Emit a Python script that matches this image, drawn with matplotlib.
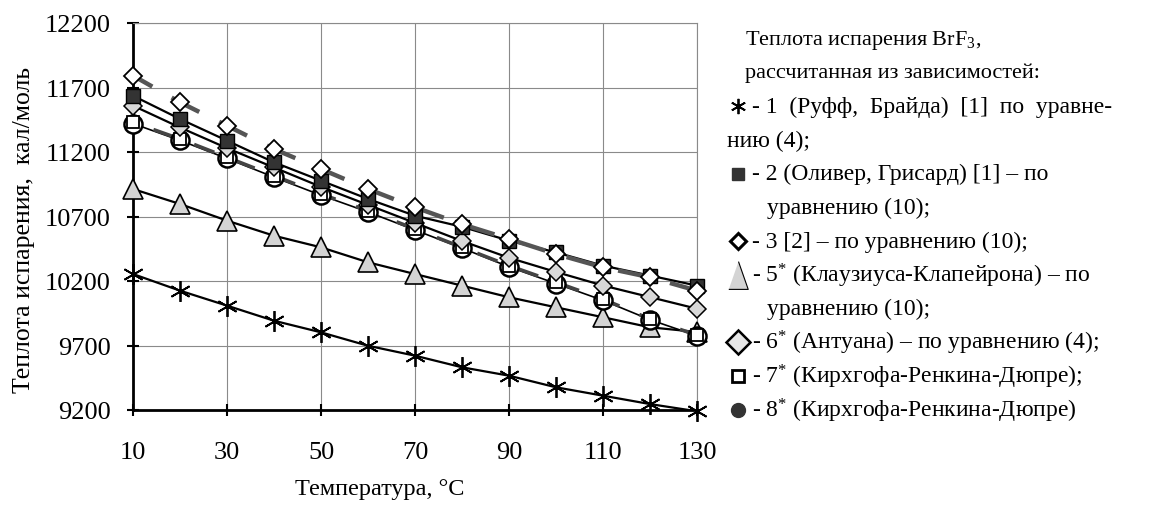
import matplotlib
matplotlib.use('Agg')
import matplotlib.pyplot as plt
from matplotlib.lines import Line2D

plt.rcParams['font.family'] = ['Liberation Serif', 'DejaVu Serif']
plt.rcParams['mathtext.fontset'] = 'custom'
plt.rcParams['mathtext.rm'] = 'Liberation Serif'
plt.rcParams['mathtext.it'] = 'Liberation Serif:italic'

# temperature, C
temps = [10, 20, 30, 40, 50, 60, 70, 80, 90, 100, 110, 120, 130]

# heat of vaporization, cal/mol
ruff = [10254, 10125, 10009, 9892, 9802, 9698, 9621, 9531, 9466, 9376, 9311, 9246, 9190]
oliver = [11636, 11456, 11288, 11120, 10978, 10836, 10706, 10620, 10513, 10422, 10319, 10242, 10164]
ref2 = [11792, 11585, 11404, 11223, 11068, 10913, 10771, 10640, 10526, 10409, 10306, 10229, 10125]
clausius = [10913, 10797, 10668, 10551, 10461, 10345, 10254, 10164, 10074, 9996, 9919, 9841, 9805]
antoine = [11559, 11390, 11230, 11080, 10930, 10790, 10650, 10510, 10380, 10270, 10165, 10075, 9985]
kirch7 = [11430, 11301, 11159, 11016, 10874, 10745, 10603, 10461, 10319, 10190, 10060, 9905, 9780]
kirch8 = [11420, 11290, 11150, 11005, 10865, 10735, 10595, 10455, 10310, 10180, 10050, 9900, 9775]

xticks = [10, 30, 50, 70, 90, 110, 130]
yticks = [9200, 9700, 10200, 10700, 11200, 11700, 12200]

legend_lines = [
    ('Теплота испарения BrF$_3$,', None),
    ('рассчитанная из зависимостей:', None),
    ('- 1  (Руфф,  Брайда)  [1]  по  уравне-', 'ruff'),
    ('нию (4);', None),
    ('- 2 (Оливер, Грисард) [1] – по', 'oliver'),
    ('уравнению (10);', None),
    ('- 3 [2] – по уравнению (10);', 'ref2'),
    ('- $5^{*}$ (Клаузиуса-Клапейрона) – по', 'clausius'),
    ('уравнению (10);', None),
    ('- $6^{*}$ (Антуана) – по уравнению (4);', 'antoine'),
    ('- $7^{*}$ (Кирхгофа-Ренкина-Дюпре);', 'kirch7'),
    ('- $8^{*}$ (Кирхгофа-Ренкина-Дюпре)', 'kirch8'),
]

W, H = 1154, 506
fig = plt.figure(figsize=(W / 100, H / 100), dpi=100)
ax = fig.add_axes([133 / W, 1 - 411 / H, (697 - 133) / W, (411 - 24) / H])

ast = (6, 2, 0)
tri_tall = [(-0.35, -0.5), (0.35, -0.5), (0.0, 0.5)]

# lines first, markers on top
ax.plot(temps, ruff, '-', color='black', lw=1.6, zorder=3)
ax.plot(temps, clausius, '-', color='black', lw=1.6, zorder=3)
ax.plot(temps, oliver, '-', color='black', lw=1.6, zorder=3)
ax.plot(temps, antoine, '-', color='black', lw=1.6, zorder=3)
ax.plot(temps, kirch8, '-', color='black', lw=1.2, zorder=3)
ax.plot(temps, ref2, color='#555555', lw=3.2, ls=(2, (7, 5)), zorder=3)
ax.plot(temps, kirch7, color='#444444', lw=2.6, ls=(6, (6, 6)), zorder=3)

mk = dict(ls='none', clip_on=False, zorder=5)
ax.plot(temps, ruff, marker=ast, ms=15, mec='black', mew=1.3, **mk)
ax.plot(temps, clausius, marker='^', ms=14, mfc='#d4d4d4', mec='black', mew=1.2, **mk)
ax.plot(temps, kirch8, marker='o', ms=13, mfc='white', mec='black', mew=1.8, **mk)
ax.plot(temps, kirch7, marker='s', ms=9, mfc='white', mec='black', mew=1.3, **mk)
ax.plot(temps, antoine, marker='D', ms=9, mfc='#d8d8d8', mec='black', mew=1.1, **mk)
ax.plot(temps, oliver, marker='s', ms=10, mfc='#333333', mec='black', mew=1.0, **mk)
ax.plot(temps, ref2, marker='D', ms=9, mfc='white', mec='black', mew=1.3, **mk)

ax.set_xlim(10, 130)
ax.set_ylim(9200, 12200)
ax.set_xticks(xticks)
ax.set_yticks(yticks)
ax.grid(True, color='#8a8a8a', lw=0.8)
ax.set_axisbelow(True)
for s in ['top', 'right']:
    ax.spines[s].set_color('#8a8a8a')
    ax.spines[s].set_linewidth(0.8)
for s in ['left', 'bottom']:
    ax.spines[s].set_linewidth(2.0)
ax.tick_params(axis='both', direction='inout', length=8, width=1.5, labelsize=19)
ax.tick_params(axis='y', pad=12)
ax.tick_params(axis='x', pad=18)

fig.text(380 / W, 1 - 490 / H, 'Температура, °C', fontsize=17.5, ha='center', va='center')
fig.text(24 / W, 1 - 230 / H, 'Теплота испарения,  кал/моль', fontsize=18.5,
         rotation=90, ha='center', va='center')

# legend, laid out by hand
leg_y0, leg_dy = 40, 33.7
for i, (txt, key) in enumerate(legend_lines):
    y = 1 - (leg_y0 + i * leg_dy) / H
    size = 17
    if i < 2:
        x = 745
        size = 16
    elif key is None:
        x = 727 if txt.startswith('нию') else 767
    else:
        x = 752
    fig.text(x / W, y, txt, fontsize=size, ha='left', va='center')

legend_marks = {
    'ruff': dict(marker=ast, ms=11, mec='black', mew=1.3),
    'oliver': dict(marker='s', ms=9, mfc='#333333', mec='#333333'),
    'ref2': dict(marker='D', ms=8, mfc='white', mec='black', mew=2.2),
    'clausius': dict(marker=tri_tall, ms=20, mfc='#d4d4d4', mec='black', mew=0.8),
    'antoine': dict(marker='D', ms=12, mfc='#e6e6e6', mec='black', mew=1.8),
    'kirch7': dict(marker='s', ms=9, mfc='white', mec='black', mew=2.0),
    'kirch8': dict(marker='o', ms=10, mfc='#333333', mec='#333333'),
}
for i, (txt, key) in enumerate(legend_lines):
    if key is None:
        continue
    y = 1 - (leg_y0 + i * leg_dy) / H
    fig.add_artist(Line2D([738 / W], [y], transform=fig.transFigure, ls='none',
                          **legend_marks[key]))

fig.savefig('out.png', dpi=100, facecolor='white')
